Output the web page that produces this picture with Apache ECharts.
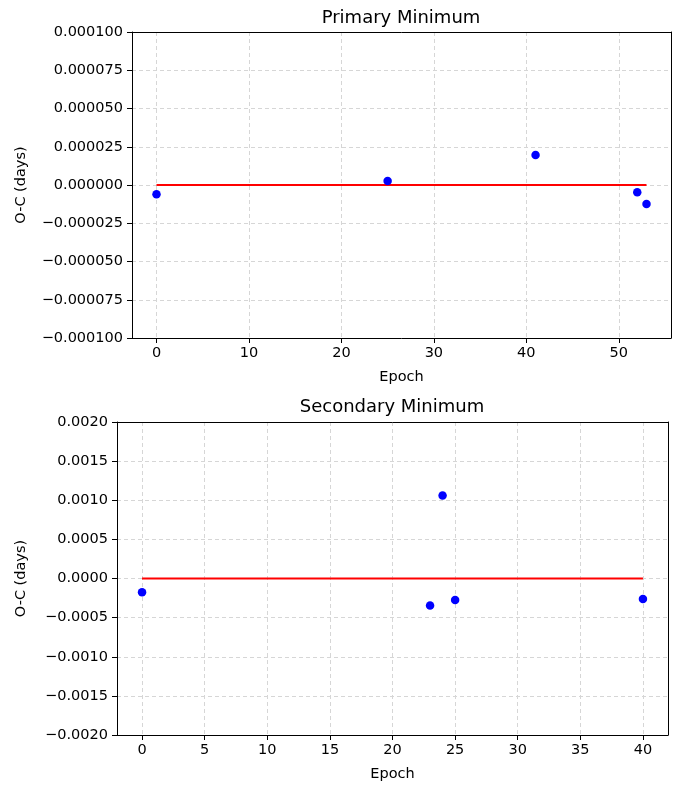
<!DOCTYPE html>
<html>
<head>
<meta charset="utf-8">
<script src="https://cdn.jsdelivr.net/npm/echarts@6/dist/echarts.min.js"></script>
<style>
  html, body { margin: 0; padding: 0; background: #fff; }
  #chart { width: 682px; height: 785px; }
</style>
</head>
<body>
<div id="chart"></div>
<script>
// O-C residuals of eclipse timings, primary and secondary minima
const primaryEpochs = [0, 25, 41, 52, 53];
const primaryOC = [-0.0000061, 0.0000026, 0.0000196, -0.0000048, -0.0000124];
const primaryFit = [[0, 0], [53, 0]];
const primaryXTicks = [0, 10, 20, 30, 40, 50];

const secondaryEpochs = [0, 23, 24, 25, 40];
const secondaryOC = [-0.000175, -0.000346, 0.00106, -0.000274, -0.000261];
const secondaryFit = [[0, 0], [40, 0]];
const secondaryXTicks = [0, 5, 10, 15, 20, 25, 30, 35, 40];

const FONT = 'DejaVu Sans';
const TICK_FS = 14.5;
const minus = s => s.replace('-', '\u2212');
const gridLine = { show: true, lineStyle: { color: '#d6d6d6', type: [4, 3], width: 1 } };

function xAxisFor(gridIndex, min, max, ticks) {
  return {
    type: 'value', gridIndex, min, max,
    name: 'Epoch', nameLocation: 'middle', nameGap: 32,
    nameTextStyle: { fontFamily: FONT, fontSize: TICK_FS, color: '#000' },
    axisLine: { show: true, onZero: false, lineStyle: { color: '#000', width: 1 } },
    axisTick: { show: true, length: 5, lineStyle: { color: '#000' }, customValues: ticks },
    axisLabel: { fontFamily: FONT, fontSize: TICK_FS, color: '#000', margin: 8, customValues: ticks,
                 formatter: v => String(v) },
    splitLine: gridLine
  };
}

function yAxisFor(gridIndex, lim, step, digits, gap) {
  return {
    type: 'value', gridIndex, min: -lim, max: lim, interval: step,
    name: 'O-C (days)', nameLocation: 'middle', nameGap: gap,
    nameTextStyle: { fontFamily: FONT, fontSize: TICK_FS, color: '#000' },
    axisLine: { show: true, onZero: false, lineStyle: { color: '#000', width: 1 } },
    axisTick: { show: true, length: 5, lineStyle: { color: '#000' } },
    axisLabel: { fontFamily: FONT, fontSize: TICK_FS, color: '#000', margin: 9,
                 formatter: v => minus((Math.abs(v) < 1e-12 ? 0 : v).toFixed(digits)) },
    splitLine: gridLine
  };
}

// plain frame lines along the top and right of each panel
function frameX(gridIndex, min, max) {
  return { type: 'value', gridIndex, min, max, position: 'top',
    axisLine: { show: true, onZero: false, lineStyle: { color: '#000', width: 1 } },
    axisTick: { show: false }, axisLabel: { show: false }, splitLine: { show: false } };
}
function frameY(gridIndex, lim) {
  return { type: 'value', gridIndex, min: -lim, max: lim, position: 'right',
    axisLine: { show: true, onZero: false, lineStyle: { color: '#000', width: 1 } },
    axisTick: { show: false }, axisLabel: { show: false }, splitLine: { show: false } };
}

const chart = echarts.init(document.getElementById('chart'), null, { renderer: 'canvas' });
chart.setOption({
  backgroundColor: '#fff',
  animation: false,
  title: [
    { text: 'Primary Minimum', left: 401, top: 9, textAlign: 'center', padding: 0,
      textStyle: { fontFamily: FONT, fontSize: 18, fontWeight: 'normal', color: '#000' } },
    { text: 'Secondary Minimum', left: 392, top: 398, textAlign: 'center', padding: 0,
      textStyle: { fontFamily: FONT, fontSize: 18, fontWeight: 'normal', color: '#000' } }
  ],
  grid: [
    { left: 132, right: 11, top: 32, height: 306 },
    { left: 117, right: 14, top: 422, height: 313 }
  ],
  xAxis: [
    xAxisFor(0, -2.65, 55.65, primaryXTicks),
    xAxisFor(1, -2, 42, secondaryXTicks),
    frameX(0, -2.65, 55.65),
    frameX(1, -2, 42)
  ],
  yAxis: [
    yAxisFor(0, 0.0001, 0.000025, 6, 103),
    yAxisFor(1, 0.002, 0.0005, 4, 88),
    frameY(0, 0.0001),
    frameY(1, 0.002)
  ],
  series: [
    { type: 'line', xAxisIndex: 0, yAxisIndex: 0, data: primaryFit, symbol: 'none',
      lineStyle: { color: '#ff0000', width: 2 }, z: 2 },
    { type: 'scatter', xAxisIndex: 0, yAxisIndex: 0,
      data: primaryEpochs.map((e, i) => [e, primaryOC[i]]),
      symbolSize: 8.5, itemStyle: { color: '#0000ff', opacity: 1 }, z: 3 },
    { type: 'line', xAxisIndex: 1, yAxisIndex: 1, data: secondaryFit, symbol: 'none',
      lineStyle: { color: '#ff0000', width: 2 }, z: 2 },
    { type: 'scatter', xAxisIndex: 1, yAxisIndex: 1,
      data: secondaryEpochs.map((e, i) => [e, secondaryOC[i]]),
      symbolSize: 8.5, itemStyle: { color: '#0000ff', opacity: 1 }, z: 3 }
  ]
});
</script>
</body>
</html>
